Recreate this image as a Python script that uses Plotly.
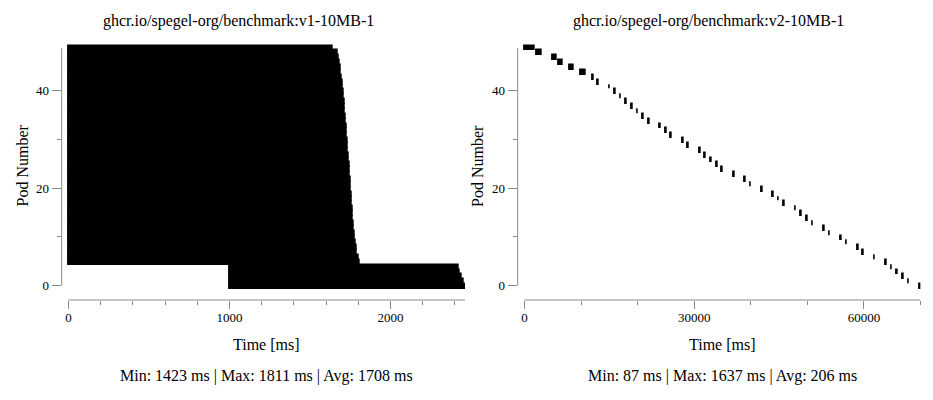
import plotly.graph_objects as go

W, H = 933, 400

# ---------------- data ----------------
pods = list(range(50))

v1_title = "ghcr.io/spegel-org/benchmark:v1-10MB-1"
v1_start = [1000, 1000, 1000, 1000, 1000] + [0] * 45
v1_duration = [1465, 1452, 1440, 1430, 1423,
               1811, 1801, 1793, 1788, 1784, 1780, 1777, 1774, 1771, 1768,
               1766, 1763, 1761, 1759, 1757, 1754, 1752, 1750, 1748, 1746,
               1744, 1742, 1740, 1737, 1735, 1733, 1731, 1728, 1726, 1723,
               1721, 1718, 1716, 1713, 1710, 1707, 1704, 1701, 1698, 1694,
               1690, 1686, 1680, 1670, 1640]
v1_stats = "Min: 1423 ms | Max: 1811 ms | Avg: 1708 ms"

v2_title = "ghcr.io/spegel-org/benchmark:v2-10MB-1"
v2_start = [69900, 67870, 66880, 65870, 64860, 63870, 61850, 59850, 58910, 56900,
            55900, 53890, 52900, 50880, 49890, 48880, 47870, 45870, 44860, 43920,
            41920, 39910, 38960, 36970, 34840, 33960, 32950, 31940, 30950, 28930,
            27940, 25920, 24980, 23980, 21980, 20960, 19970, 18970, 17960, 16970,
            15960, 15020, 13000, 12020, 10020, 8020, 6120, 5060, 2120, 80]
v2_duration = [87, 123, 99, 133, 121, 112, 130, 108, 118, 135,
               104, 126, 110, 117, 142, 101, 115, 131, 107, 128,
               120, 103, 134, 111, 125, 116, 98, 139, 123, 106,
               132, 119, 113, 127, 100, 144, 122, 105, 129, 114,
               136, 102, 109, 124, 710, 640, 590, 650, 880, 1637]
v2_stats = "Min: 87 ms | Max: 1637 ms | Avg: 206 ms"

x_title = "Time [ms]"
y_title = "Pod Number"

# ---------------- layout helpers ----------------
def px_x(p):
    return p / W

def px_y(p):
    return 1 - p / H

FONT = "Liberation Serif"
AXC = "#8a8a8a"

fig = go.Figure()

bar_style = dict(orientation="h", width=1.0, offset=-0.7,
                 marker=dict(color="black", line=dict(color="black", width=1.6)),
                 hoverinfo="skip", showlegend=False)

fig.add_trace(go.Bar(y=pods, x=v1_duration, base=v1_start, xaxis="x", yaxis="y", **bar_style))
fig.add_trace(go.Bar(y=pods, x=v2_duration, base=v2_start, xaxis="x2", yaxis="y2", **bar_style))

v1_end = max(s + d for s, d in zip(v1_start, v1_duration))
v2_end = max(s + d for s, d in zip(v2_start, v2_duration))

def xaxis(domain, rng, major, minor, anchor):
    return dict(domain=domain, range=rng, anchor=anchor, showgrid=False, zeroline=False,
                showline=False, ticks="outside", ticklen=8, tickwidth=1, tickcolor=AXC,
                tick0=0, dtick=major, tickformat="d", ticklabelstandoff=-3,
                tickfont=dict(family=FONT, size=13, color="black"),
                minor=dict(dtick=minor, tick0=0, ticks="outside", ticklen=4, tickwidth=1,
                           tickcolor=AXC, showgrid=False),
                fixedrange=True)

def yaxis(domain, rng, anchor):
    return dict(domain=domain, range=rng, anchor=anchor, showgrid=False, zeroline=False,
                showline=False, ticks="outside", ticklen=9, tickwidth=1, tickcolor=AXC,
                tick0=0, dtick=20, tickformat="d",
                tickfont=dict(family=FONT, size=13, color="black"),
                minor=dict(dtick=10, tick0=0, ticks="outside", ticklen=4, tickwidth=1,
                           tickcolor=AXC, showgrid=False),
                fixedrange=True)

ydom = [px_y(300), px_y(44)]
yr = [-2.94, 49.63]

fig.update_layout(
    width=W, height=H, autosize=False,
    margin=dict(l=0, r=0, t=0, b=0),
    paper_bgcolor="white", plot_bgcolor="white",
    showlegend=False, bargap=0,
    font=dict(family=FONT, size=13, color="black"),
    xaxis=xaxis([px_x(61.7), px_x(465)], [-42, 2463], 1000, 200, "y"),
    yaxis=yaxis(ydom, yr, "x"),
    xaxis2=xaxis([px_x(517.7), px_x(920.5)], [-1204, 70010], 30000, 10000, "y2"),
    yaxis2=yaxis(ydom, yr, "x2"),
)

shapes = []
# axis lines (data-range spans)
shapes.append(dict(type="line", xref="x", yref="paper", x0=0, x1=v1_end, y0=px_y(300), y1=px_y(300),
                   line=dict(color=AXC, width=1)))
shapes.append(dict(type="line", xref="paper", yref="y", x0=px_x(61.7), x1=px_x(61.7), y0=0, y1=48.75,
                   line=dict(color=AXC, width=1)))
shapes.append(dict(type="line", xref="x2", yref="paper", x0=0, x1=v2_end, y0=px_y(300), y1=px_y(300),
                   line=dict(color=AXC, width=1)))
shapes.append(dict(type="line", xref="paper", yref="y2", x0=px_x(517.7), x1=px_x(517.7), y0=0, y1=48.75,
                   line=dict(color=AXC, width=1)))
fig.update_layout(shapes=shapes)

ann = []
def text(x, y, s, size=16, angle=0):
    ann.append(dict(x=px_x(x), y=px_y(y), xref="paper", yref="paper", text=s, showarrow=False,
                    xanchor="center", yanchor="middle", textangle=angle,
                    font=dict(family=FONT, size=size, color="black")))

text(238, 21, v1_title)
text(708, 21, v2_title)
text(266.7, 344, x_title)
text(722, 344, x_title)
text(266, 376, v1_stats)
text(722, 376, v2_stats)
text(21.5, 166, y_title, angle=-90)
text(477, 166, y_title, angle=-90)
fig.update_layout(annotations=ann)

fig.write_html("out.html")
